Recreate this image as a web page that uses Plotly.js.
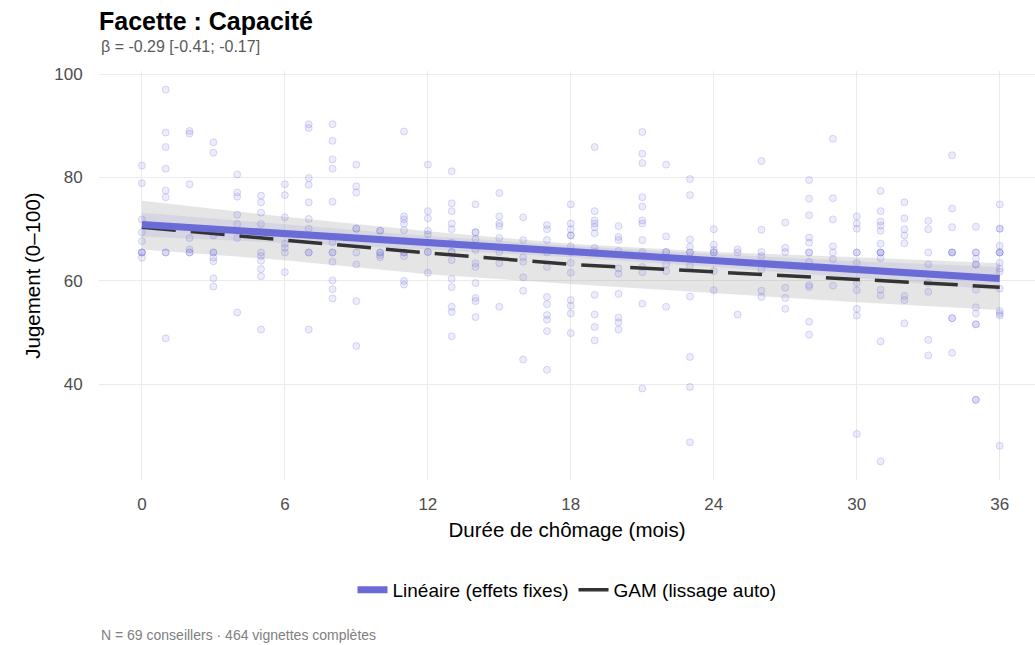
<!DOCTYPE html>
<html>
<head>
<meta charset="utf-8">
<script src="https://cdn.plot.ly/plotly-3.0.1.min.js"></script>
<style>
  html, body { margin: 0; padding: 0; background: #ffffff; }
  #chart { width: 1035px; height: 645px; }
</style>
</head>
<body>
<div id="chart"></div>
<script>
// ---- Data ----
const months = [0,1,2,3,4,5,6,7,8,9,10,11,12,13,14,15,16,17,18,19,20,21,22,23,24,25,26,27,28,29,30,31,32,33,34,35,36];

const judgements = [
  [82.3, 78.9, 71.9, 69.4, 67.7, 65.5, 65.5, 65.5, 64.5],
  [97.0, 88.7, 85.9, 81.7, 77.5, 76.2, 65.5, 65.5, 48.9],
  [89.0, 88.5, 78.7, 68.3, 66.1, 65.5, 65.5],
  [86.8, 84.8, 68.8, 65.5, 65.5, 64.5, 63.8, 60.5, 58.9],
  [80.6, 77.1, 76.3, 72.8, 71.0, 68.3, 53.9],
  [76.5, 75.2, 73.2, 71.0, 65.5, 64.8, 63.9, 62.3, 60.9, 50.6],
  [78.7, 76.6, 72.3, 67.2, 66.4, 65.5, 61.7],
  [90.3, 89.6, 79.9, 78.6, 75.2, 72.0, 70.1, 65.5, 65.5, 50.6],
  [90.3, 87.1, 83.5, 81.7, 75.3, 67.5, 65.5, 65.5, 63.7, 60.1, 58.4, 56.6],
  [82.5, 78.3, 77.1, 70.1, 70.1, 65.5, 63.2, 56.1, 47.4],
  [69.7, 69.7, 65.5, 65.5, 65.0, 64.6],
  [88.9, 72.5, 71.9, 71.1, 69.8, 65.5, 65.5, 64.8, 60.0, 59.3],
  [82.5, 73.5, 72.1, 69.7, 69.0, 65.6, 65.6, 61.6],
  [81.2, 75.0, 73.5, 71.1, 70.0, 67.4, 65.6, 65.6, 64.0, 60.4, 58.8, 55.0, 54.0, 49.3],
  [74.8, 69.4, 69.4, 68.1, 66.0, 63.4, 62.7, 59.6, 56.7, 56.1, 53.0],
  [77.0, 72.5, 71.1, 70.6, 68.3, 65.6, 63.4, 55.0],
  [72.3, 67.9, 64.6, 63.7, 60.7, 58.1, 44.8],
  [70.8, 70.0, 67.9, 65.5, 62.7, 56.9, 55.5, 53.4, 52.5, 50.3, 42.8],
  [74.8, 71.1, 70.0, 68.8, 68.8, 66.7, 65.5, 63.5, 61.6, 56.3, 55.2, 53.7, 49.9],
  [85.9, 73.5, 71.7, 71.1, 70.4, 69.2, 66.4, 65.6, 57.3, 53.5, 51.1, 48.5],
  [70.6, 68.5, 67.9, 65.8, 62.4, 61.4, 57.5, 52.9, 52.0, 50.6],
  [88.8, 84.6, 82.8, 76.2, 74.4, 71.7, 71.1, 67.9, 65.6, 62.7, 61.7, 55.6, 39.2],
  [82.5, 68.6, 65.6, 65.6, 63.2, 61.9, 55.0],
  [79.7, 76.6, 68.0, 66.6, 65.5, 65.5, 62.9, 57.0, 45.3, 39.5, 28.8],
  [70.0, 67.0, 66.0, 65.5, 65.5, 61.9, 58.2],
  [66.1, 65.5, 53.5],
  [83.2, 69.9, 65.6, 64.8, 62.2, 58.1, 56.9],
  [71.3, 66.4, 65.6, 58.7, 56.7, 54.6],
  [79.5, 75.9, 72.7, 68.4, 67.4, 65.5, 65.5, 63.7, 59.2, 58.8, 52.1, 49.6],
  [87.5, 76.0, 71.9, 66.7, 65.5, 64.2, 59.1],
  [72.5, 71.1, 70.1, 65.5, 65.5, 63.5, 59.6, 58.2, 54.6, 53.3, 30.4],
  [77.4, 73.5, 71.5, 70.7, 69.7, 67.2, 65.5, 65.5, 65.5, 64.4, 58.3, 57.2, 48.3, 25.1],
  [75.2, 72.1, 70.0, 68.8, 67.3, 57.1, 56.3, 51.8],
  [71.6, 70.0, 65.5, 63.2, 59.6, 57.9, 48.6, 45.6],
  [84.3, 74.0, 70.4, 65.5, 65.5, 65.5, 52.8, 52.8, 46.1],
  [70.5, 65.5, 65.5, 64.3, 63.2, 63.2, 58.3, 54.9, 53.7, 51.6, 51.6, 37.0, 37.0],
  [74.8, 70.1, 70.1, 66.8, 65.5, 65.5, 65.5, 63.5, 62.4, 61.8, 58.5, 54.2, 53.7, 53.3, 28.1]
];

const fitX        = [0, 6, 12, 18, 24, 30, 36];
const linearFit   = [70.9, 69.2, 67.4, 65.7, 63.9, 62.2, 60.45];
const linearLow   = [68.6, 67.4, 66.1, 64.6, 62.7, 60.6, 58.2];
const linearHigh  = [73.2, 70.9, 68.7, 66.8, 65.2, 63.8, 62.7];
const gamFit      = [70.4, 67.9, 65.4, 63.2, 61.8, 60.3, 58.8];
const gamLow      = [66.1, 64.0, 61.3, 59.4, 57.6, 55.9, 54.4];
const gamHigh     = [75.5, 72.4, 69.6, 67.2, 65.6, 64.6, 63.4];

const xTicks = [0, 6, 12, 18, 24, 30, 36];
const yTicks = [40, 60, 80, 100];

const titleText    = "Facette : Capacité";
const subtitleText = "β = -0.29 [-0.41; -0.17]";
const xTitle       = "Durée de chômage (mois)";
const yTitle       = "Jugement (0–100)";
const linearName   = "Linéaire (effets fixes)";
const gamName      = "GAM (lissage auto)";
const captionText  = "N = 69 conseillers · 464 vignettes complètes";

// ---- Build traces ----
const ptsX = [], ptsY = [];
months.forEach((m, i) => judgements[i].forEach(v => { ptsX.push(m); ptsY.push(v); }));

const band = (lo, hi) => ({
  x: fitX.concat(fitX.slice().reverse()),
  y: hi.concat(lo.slice().reverse())
});

const BLUE = "#6b6bd8";
const FONT = "Liberation Sans, Arial, sans-serif";

const gamBand = band(gamLow, gamHigh);
const linBand = band(linearLow, linearHigh);

const traces = [
  { type: "scatter", mode: "lines", x: gamBand.x, y: gamBand.y, fill: "toself",
    fillcolor: "rgba(153,153,153,0.26)", line: { width: 0 }, showlegend: false, hoverinfo: "skip" },
  { type: "scatter", mode: "lines", x: linBand.x, y: linBand.y, fill: "toself",
    fillcolor: "rgba(107,107,216,0.12)", line: { width: 0 }, showlegend: false, hoverinfo: "skip" },
  { type: "scatter", mode: "markers", x: ptsX, y: ptsY, showlegend: false,
    marker: { size: 7, color: "rgba(107,107,216,0.13)", line: { color: "rgba(107,107,216,0.24)", width: 1 } } },
  { type: "scatter", mode: "lines", x: fitX, y: gamFit, name: gamName, legendrank: 2,
    line: { color: "#333333", width: 3.5, dash: "34px,15px" } },
  { type: "scatter", mode: "lines", x: fitX, y: linearFit, name: linearName, legendrank: 1,
    line: { color: BLUE, width: 7 } }
];

const plotTop = 71, plotBottom = 480, H = 645;
const ph = plotBottom - plotTop;
const py = (pix) => (plotBottom - pix) / ph;

const layout = {
  width: 1035, height: 645,
  margin: { l: 99, r: 0, t: plotTop, b: H - plotBottom, pad: 0 },
  paper_bgcolor: "#ffffff", plot_bgcolor: "#ffffff",
  font: { family: FONT, color: "#000000" },
  title: { text: "<b>" + titleText + "</b>", font: { family: FONT, size: 25, color: "#000000" },
           xref: "paper", x: 0, xanchor: "left", yref: "container", y: 1 - 21 / H, yanchor: "middle" },
  xaxis: {
    range: [-1.8, 37.48], tickvals: xTicks, ticktext: xTicks.map(String),
    showgrid: true, gridcolor: "#ebebeb", gridwidth: 1.1, zeroline: false, showline: false,
    ticks: "outside", ticklen: 9, tickcolor: "rgba(0,0,0,0)",
    tickfont: { family: FONT, size: 17, color: "#4d4d4d" },
    title: { text: xTitle, font: { family: FONT, size: 20.5, color: "#000000" }, standoff: 9 }
  },
  yaxis: {
    range: [21.5, 100.6], tickvals: yTicks, ticktext: yTicks.map(String),
    showgrid: true, gridcolor: "#ebebeb", gridwidth: 1.1, zeroline: false, showline: false,
    ticks: "outside", ticklen: 12, tickcolor: "rgba(0,0,0,0)",
    tickfont: { family: FONT, size: 17, color: "#4d4d4d" },
    title: { text: yTitle, font: { family: FONT, size: 20.5, color: "#000000" }, standoff: 8 }
  },
  showlegend: true,
  legend: {
    orientation: "h", x: 0.5, xanchor: "center", y: py(590), yanchor: "middle",
    font: { family: FONT, size: 19, color: "#000000" }, bgcolor: "rgba(0,0,0,0)",
    itemwidth: 30, traceorder: "normal"
  },
  annotations: [
    { text: subtitleText, xref: "paper", yref: "paper", x: 0, xanchor: "left",
      y: py(46), yanchor: "middle", showarrow: false,
      font: { family: FONT, size: 16, color: "#5a5a5a" } },
    { text: captionText, xref: "paper", yref: "paper", x: 0, xanchor: "left",
      y: py(635), yanchor: "middle", showarrow: false,
      font: { family: FONT, size: 14, color: "#808080" } }
  ]
};

Plotly.newPlot("chart", traces, layout, { displayModeBar: false, staticPlot: true });
</script>
</body>
</html>
